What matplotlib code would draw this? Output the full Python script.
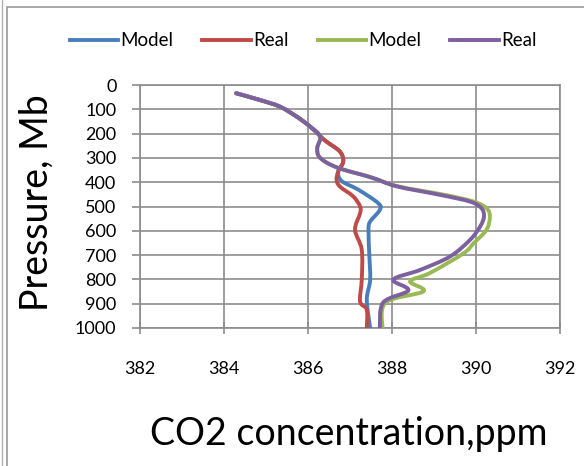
import numpy as np
import matplotlib.pyplot as plt
from matplotlib.path import Path
from matplotlib.patches import PathPatch, Rectangle
from matplotlib.lines import Line2D

plt.rcParams['font.family'] = ['Lato', 'DejaVu Sans']

# ── data (pressure in Mb, CO2 in ppm) ──────────────────────────────────────
p_model1 = [34, 62, 89, 130, 171, 212, 233, 274, 315, 356, 395, 431, 486, 514, 562, 596, 700, 801, 884, 1000]
c_model1 = [384.29, 384.86, 385.33, 385.73, 386.05, 386.3, 386.44, 386.76, 386.84, 386.72, 386.8,
            387.2, 387.67, 387.71, 387.48, 387.44, 387.46, 387.48, 387.4, 387.48]

p_real1 = [34, 62, 89, 130, 171, 212, 233, 274, 315, 356, 390, 418, 459, 500, 528, 596, 678, 801, 891, 925, 1000]
c_real1 = [384.29, 384.86, 385.33, 385.73, 386.05, 386.3, 386.44, 386.76, 386.84, 386.72, 386.68,
           386.76, 387.08, 387.24, 387.24, 387.12, 387.28, 387.28, 387.24, 387.4, 387.4]

p_model2 = [34, 62, 89, 130, 171, 212, 260, 300, 340, 380, 417, 452, 480, 507, 541, 596, 650, 693,
            774, 808, 849, 895, 1000]
c_model2 = [384.29, 384.86, 385.33, 385.73, 386.05, 386.29, 386.22, 386.29, 386.7, 387.5, 388.15,
            389.25, 389.95, 390.25, 390.33, 390.25, 389.95, 389.7, 388.9, 388.43, 388.75, 387.85, 387.77]

p_real2 = [34, 62, 89, 130, 171, 212, 260, 300, 340, 380, 417, 452, 480, 507, 541, 582, 637, 706,
           761, 801, 845, 895, 1000]
c_real2 = [384.29, 384.86, 385.33, 385.73, 386.05, 386.29, 386.22, 386.29, 386.7, 387.5, 388.11,
           389.14, 389.86, 390.13, 390.19, 390.1, 389.86, 389.38, 388.67, 388.03, 388.39, 387.79, 387.71]

labels = ['Model', 'Real', 'Model', 'Real']
colors = ['#4A7EBB', '#BE4B48', '#98B954', '#7D60A0']


def smooth_path(xs, ys):
    # Excel-like smoothed line: Catmull-Rom segments written as cubic Beziers
    pts = np.column_stack([xs, ys]).astype(float)
    verts = [pts[0]]
    codes = [Path.MOVETO]
    n = len(pts)
    for i in range(n - 1):
        p0 = pts[i - 1] if i > 0 else pts[i]
        p1, p2 = pts[i], pts[i + 1]
        p3 = pts[i + 2] if i + 2 < n else pts[i + 1]
        verts += [p1 + (p2 - p0) / 6, p2 - (p3 - p1) / 6, p2]
        codes += [Path.CURVE4] * 3
    return Path(verts, codes)


fig = plt.figure(figsize=(5.84, 4.66), dpi=100)
ax = fig.add_axes([140 / 584, 1 - 328 / 466, 420 / 584, 243 / 466])

series = [(c_model1, p_model1), (c_real1, p_real1), (c_model2, p_model2), (c_real2, p_real2)]
for (xs, ys), col in zip(series, colors):
    ax.add_patch(PathPatch(smooth_path(xs, ys), facecolor='none', edgecolor=col,
                           lw=2.8, capstyle='round', joinstyle='round', zorder=3))

ax.set_xlim(382, 392)
ax.set_ylim(1000, 0)
ax.set_xticks(np.arange(382, 393, 2))
ax.set_yticks(np.arange(0, 1001, 100))
ax.grid(True, color='#8c8c8c', lw=1.2)
ax.set_axisbelow(True)
for s in ax.spines.values():
    s.set_color('#8c8c8c')
    s.set_linewidth(1.2)
ax.tick_params(axis='x', direction='inout', length=9, width=1.2, color='#8c8c8c',
               pad=19, labelsize=13)
ax.tick_params(axis='y', direction='out', length=6, width=1.2, color='#8c8c8c',
               pad=11, labelsize=13)

fig.text(37 / 584, 1 - 203 / 466, 'Pressure, Mb', rotation=90, ha='center', va='center', fontsize=27)
fig.text(349 / 584, 1 - 445 / 466, 'CO2 concentration,ppm', ha='center', va='baseline', fontsize=27)

handles = [Line2D([], [], color=c, lw=2.8) for c in colors]
fig.legend(handles, labels, loc='center', bbox_to_anchor=(303 / 584, 1 - 41 / 466), ncol=4,
           frameon=False, fontsize=13.5, handlelength=2.6, handletextpad=0.1, columnspacing=1.55)

# chart-area border
fig.patches.append(Rectangle((7 / 584, -0.1), 1.2, 1 - 7 / 466 + 0.1, transform=fig.transFigure,
                             fill=False, edgecolor='#9a9a9a', lw=1.2))
fig.add_artist(Line2D([2 / 584, 2 / 584], [0, 1], transform=fig.transFigure, color='#b0b0b0', lw=1))

fig.savefig('out.png', dpi=100)
